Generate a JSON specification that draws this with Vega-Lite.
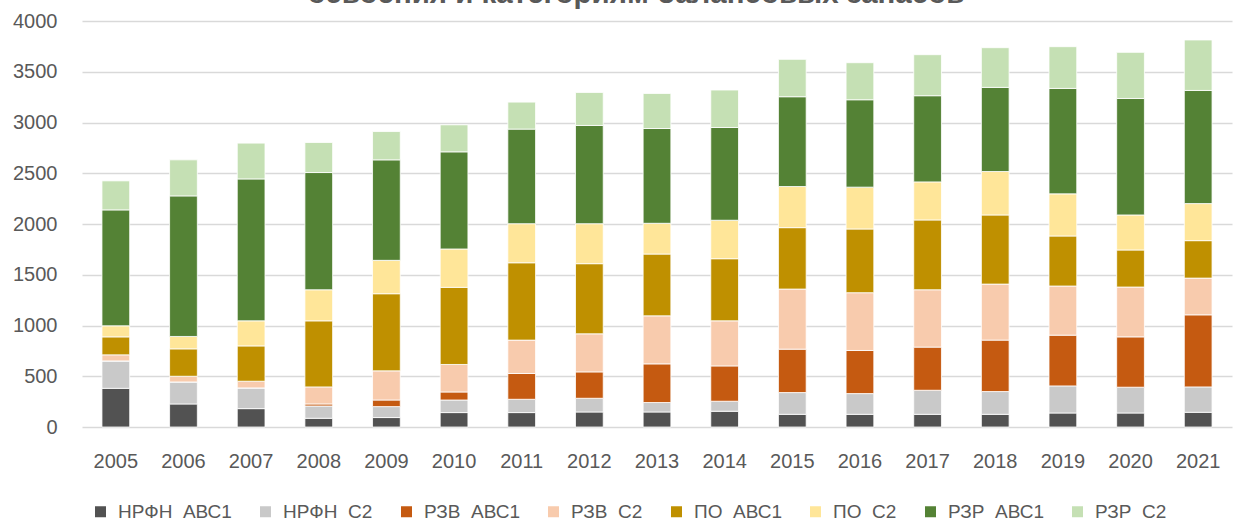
{
  "$schema": "https://vega.github.io/schema/vega-lite/v6.json",
  "width": 1150,
  "height": 406,
  "autosize": {"type": "none"},
  "padding": {"left": 82, "top": 21, "right": 4, "bottom": 95},
  "background": "white",
  "config": {"view": {"stroke": null}, "font": "Liberation Sans"},
  "title": {
    "text": "освоения и категориям балансовых запасов",
    "fontSize": 29.5,
    "font": "Liberation Sans",
    "fontWeight": "bold",
    "color": "#595959",
    "anchor": "middle",
    "frame": "group",
    "baseline": "alphabetic",
    "offset": 3.5,
    "dy": 24.5,
    "dx": -21
  },
  "datasets": {
    "ranks": [
      {"series": "НРФН\u00a0\u00a0АВС1", "rank": 1},
      {"series": "НРФН\u00a0\u00a0С2", "rank": 2},
      {"series": "РЗВ\u00a0\u00a0АВС1", "rank": 3},
      {"series": "РЗВ\u00a0\u00a0С2", "rank": 4},
      {"series": "ПО\u00a0\u00a0АВС1", "rank": 5},
      {"series": "ПО\u00a0\u00a0С2", "rank": 6},
      {"series": "РЗР\u00a0\u00a0АВС1", "rank": 7},
      {"series": "РЗР\u00a0\u00a0С2", "rank": 8}
    ]
  },
  "data": {
    "values": [
      {"year": "2005", "НРФН\u00a0\u00a0АВС1": 381, "НРФН\u00a0\u00a0С2": 270, "РЗВ\u00a0\u00a0АВС1": 0, "РЗВ\u00a0\u00a0С2": 60, "ПО\u00a0\u00a0АВС1": 177, "ПО\u00a0\u00a0С2": 109, "РЗР\u00a0\u00a0АВС1": 1142, "РЗР\u00a0\u00a0С2": 286},
      {"year": "2006", "НРФН\u00a0\u00a0АВС1": 227, "НРФН\u00a0\u00a0С2": 217, "РЗВ\u00a0\u00a0АВС1": 0, "РЗВ\u00a0\u00a0С2": 56, "ПО\u00a0\u00a0АВС1": 270, "ПО\u00a0\u00a0С2": 122, "РЗР\u00a0\u00a0АВС1": 1385, "РЗР\u00a0\u00a0С2": 355},
      {"year": "2007", "НРФН\u00a0\u00a0АВС1": 181, "НРФН\u00a0\u00a0С2": 204, "РЗВ\u00a0\u00a0АВС1": 0, "РЗВ\u00a0\u00a0С2": 66, "ПО\u00a0\u00a0АВС1": 348, "ПО\u00a0\u00a0С2": 247, "РЗР\u00a0\u00a0АВС1": 1398, "РЗР\u00a0\u00a0С2": 353},
      {"year": "2008", "НРФН\u00a0\u00a0АВС1": 86, "НРФН\u00a0\u00a0С2": 121, "РЗВ\u00a0\u00a0АВС1": 20, "РЗВ\u00a0\u00a0С2": 168, "ПО\u00a0\u00a0АВС1": 651, "ПО\u00a0\u00a0С2": 306, "РЗР\u00a0\u00a0АВС1": 1155, "РЗР\u00a0\u00a0С2": 296},
      {"year": "2009", "НРФН\u00a0\u00a0АВС1": 93, "НРФН\u00a0\u00a0С2": 108, "РЗВ\u00a0\u00a0АВС1": 65, "РЗВ\u00a0\u00a0С2": 287, "ПО\u00a0\u00a0АВС1": 760, "ПО\u00a0\u00a0С2": 329, "РЗР\u00a0\u00a0АВС1": 990, "РЗР\u00a0\u00a0С2": 279},
      {"year": "2010", "НРФН\u00a0\u00a0АВС1": 142, "НРФН\u00a0\u00a0С2": 124, "РЗВ\u00a0\u00a0АВС1": 79, "РЗВ\u00a0\u00a0С2": 271, "ПО\u00a0\u00a0АВС1": 760, "ПО\u00a0\u00a0С2": 378, "РЗР\u00a0\u00a0АВС1": 957, "РЗР\u00a0\u00a0С2": 266},
      {"year": "2011", "НРФН\u00a0\u00a0АВС1": 142, "НРФН\u00a0\u00a0С2": 131, "РЗВ\u00a0\u00a0АВС1": 254, "РЗВ\u00a0\u00a0С2": 329, "ПО\u00a0\u00a0АВС1": 762, "ПО\u00a0\u00a0С2": 385, "РЗР\u00a0\u00a0АВС1": 932, "РЗР\u00a0\u00a0С2": 266},
      {"year": "2012", "НРФН\u00a0\u00a0АВС1": 148, "НРФН\u00a0\u00a0С2": 135, "РЗВ\u00a0\u00a0АВС1": 260, "РЗВ\u00a0\u00a0С2": 375, "ПО\u00a0\u00a0АВС1": 691, "ПО\u00a0\u00a0С2": 394, "РЗР\u00a0\u00a0АВС1": 968, "РЗР\u00a0\u00a0С2": 325},
      {"year": "2013", "НРФН\u00a0\u00a0АВС1": 148, "НРФН\u00a0\u00a0С2": 93, "РЗВ\u00a0\u00a0АВС1": 381, "РЗВ\u00a0\u00a0С2": 473, "ПО\u00a0\u00a0АВС1": 609, "ПО\u00a0\u00a0С2": 303, "РЗР\u00a0\u00a0АВС1": 934, "РЗР\u00a0\u00a0С2": 345},
      {"year": "2014", "НРФН\u00a0\u00a0АВС1": 155, "НРФН\u00a0\u00a0С2": 99, "РЗВ\u00a0\u00a0АВС1": 348, "РЗВ\u00a0\u00a0С2": 444, "ПО\u00a0\u00a0АВС1": 612, "ПО\u00a0\u00a0С2": 379, "РЗР\u00a0\u00a0АВС1": 914, "РЗР\u00a0\u00a0С2": 369},
      {"year": "2015", "НРФН\u00a0\u00a0АВС1": 125, "НРФН\u00a0\u00a0С2": 214, "РЗВ\u00a0\u00a0АВС1": 428, "РЗВ\u00a0\u00a0С2": 592, "ПО\u00a0\u00a0АВС1": 605, "ПО\u00a0\u00a0С2": 405, "РЗР\u00a0\u00a0АВС1": 885, "РЗР\u00a0\u00a0С2": 368},
      {"year": "2016", "НРФН\u00a0\u00a0АВС1": 125, "НРФН\u00a0\u00a0С2": 204, "РЗВ\u00a0\u00a0АВС1": 425, "РЗВ\u00a0\u00a0С2": 569, "ПО\u00a0\u00a0АВС1": 628, "ПО\u00a0\u00a0С2": 412, "РЗР\u00a0\u00a0АВС1": 861, "РЗР\u00a0\u00a0С2": 365},
      {"year": "2017", "НРФН\u00a0\u00a0АВС1": 125, "НРФН\u00a0\u00a0С2": 237, "РЗВ\u00a0\u00a0АВС1": 425, "РЗВ\u00a0\u00a0С2": 565, "ПО\u00a0\u00a0АВС1": 688, "ПО\u00a0\u00a0С2": 375, "РЗР\u00a0\u00a0АВС1": 849, "РЗР\u00a0\u00a0С2": 404},
      {"year": "2018", "НРФН\u00a0\u00a0АВС1": 125, "НРФН\u00a0\u00a0С2": 224, "РЗВ\u00a0\u00a0АВС1": 507, "РЗВ\u00a0\u00a0С2": 552, "ПО\u00a0\u00a0АВС1": 681, "ПО\u00a0\u00a0С2": 428, "РЗР\u00a0\u00a0АВС1": 829, "РЗР\u00a0\u00a0С2": 391},
      {"year": "2019", "НРФН\u00a0\u00a0АВС1": 138, "НРФН\u00a0\u00a0С2": 267, "РЗВ\u00a0\u00a0АВС1": 500, "РЗВ\u00a0\u00a0С2": 484, "ПО\u00a0\u00a0АВС1": 493, "ПО\u00a0\u00a0С2": 415, "РЗР\u00a0\u00a0АВС1": 1039, "РЗР\u00a0\u00a0С2": 411},
      {"year": "2020", "НРФН\u00a0\u00a0АВС1": 138, "НРФН\u00a0\u00a0С2": 254, "РЗВ\u00a0\u00a0АВС1": 496, "РЗВ\u00a0\u00a0С2": 491, "ПО\u00a0\u00a0АВС1": 365, "ПО\u00a0\u00a0С2": 345, "РЗР\u00a0\u00a0АВС1": 1148, "РЗР\u00a0\u00a0С2": 454},
      {"year": "2021", "НРФН\u00a0\u00a0АВС1": 145, "НРФН\u00a0\u00a0С2": 250, "РЗВ\u00a0\u00a0АВС1": 710, "РЗВ\u00a0\u00a0С2": 362, "ПО\u00a0\u00a0АВС1": 369, "ПО\u00a0\u00a0С2": 365, "РЗР\u00a0\u00a0АВС1": 1115, "РЗР\u00a0\u00a0С2": 497}
    ]
  },
  "transform": [
    {"fold": ["НРФН\u00a0\u00a0АВС1", "НРФН\u00a0\u00a0С2", "РЗВ\u00a0\u00a0АВС1", "РЗВ\u00a0\u00a0С2", "ПО\u00a0\u00a0АВС1", "ПО\u00a0\u00a0С2", "РЗР\u00a0\u00a0АВС1", "РЗР\u00a0\u00a0С2"], "as": ["series", "value"]},
    {"lookup": "series", "from": {"data": {"name": "ranks"}, "key": "series", "fields": ["rank"]}}
  ],
  "mark": {"type": "bar", "stroke": "#ffffff", "strokeWidth": 0.8},
  "encoding": {
    "x": {
      "field": "year",
      "type": "ordinal",
      "title": null,
      "scale": {"paddingInner": 0.59, "paddingOuter": 0.295},
      "axis": {"domain": false, "ticks": false, "labelAngle": 0, "labelFontSize": 20, "labelColor": "#595959", "labelPadding": 24, "labelFont": "Liberation Sans"}
    },
    "y": {
      "field": "value",
      "type": "quantitative",
      "stack": "zero",
      "title": null,
      "scale": {"domain": [0, 4000], "nice": false},
      "axis": {"values": [0, 500, 1000, 1500, 2000, 2500, 3000, 3500, 4000], "format": "d", "domain": false, "ticks": false, "labelFontSize": 20, "labelColor": "#595959", "labelPadding": 25, "labelFont": "Liberation Sans", "gridColor": "#d9d9d9", "gridWidth": 1.5}
    },
    "order": {"field": "rank", "type": "quantitative", "sort": "ascending"},
    "color": {
      "field": "series",
      "type": "nominal",
      "sort": ["НРФН\u00a0\u00a0АВС1", "НРФН\u00a0\u00a0С2", "РЗВ\u00a0\u00a0АВС1", "РЗВ\u00a0\u00a0С2", "ПО\u00a0\u00a0АВС1", "ПО\u00a0\u00a0С2", "РЗР\u00a0\u00a0АВС1", "РЗР\u00a0\u00a0С2"],
      "scale": {
        "domain": ["НРФН\u00a0\u00a0АВС1", "НРФН\u00a0\u00a0С2", "РЗВ\u00a0\u00a0АВС1", "РЗВ\u00a0\u00a0С2", "ПО\u00a0\u00a0АВС1", "ПО\u00a0\u00a0С2", "РЗР\u00a0\u00a0АВС1", "РЗР\u00a0\u00a0С2"],
        "range": ["#525252", "#c9c9c9", "#c55a11", "#f8cbad", "#bf9000", "#ffe699", "#548235", "#c5e0b4"]
      },
      "legend": {
        "title": null,
        "orient": "none",
        "direction": "horizontal",
        "legendX": 9,
        "legendY": 481,
        "symbolType": "square",
        "symbolSize": 121,
        "symbolStrokeWidth": 0,
        "labelFontSize": 19,
        "labelColor": "#595959",
        "labelFont": "Liberation Sans",
        "labelOffset": 8,
        "columnPadding": 24,
        "labelLimit": 300
      }
    }
  }
}
